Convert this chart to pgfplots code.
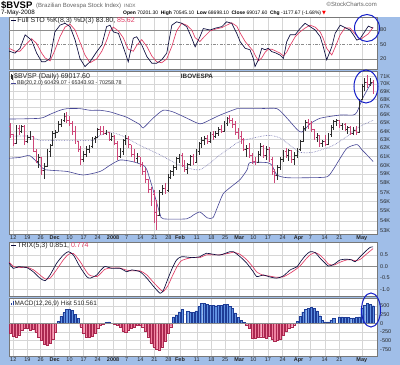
\documentclass[border=0pt]{standalone}
\usepackage{pgfplots}
\pgfplotsset{compat=1.18}
\usepackage{pgfplotstable}
\usepackage{fontspec}
\setmainfont{Liberation Sans}
\newfontfamily\dejavu{DejaVu Sans}
\definecolor{bgblue}{RGB}{160,190,232}
\definecolor{gridc}{RGB}{214,214,214}
\definecolor{framec}{RGB}{120,120,120}
\definecolor{kline}{RGB}{10,10,60}
\definecolor{dline}{RGB}{225,60,100}
\definecolor{upbar}{RGB}{45,45,45}
\definecolor{dnbar}{RGB}{205,70,120}
\definecolor{bbc}{RGB}{70,70,150}
\definecolor{histpos}{RGB}{95,145,225}
\definecolor{histposd}{RGB}{30,60,150}
\definecolor{histneg}{RGB}{240,130,160}
\definecolor{histnegd}{RGB}{170,40,80}
\definecolor{circc}{RGB}{20,30,200}
\definecolor{hdrgray}{RGB}{100,100,100}

\pgfdeclareplotmark{ctick}{\pgfpathmoveto{\pgfqpoint{0pt}{0pt}}\pgfpathlineto{\pgfqpoint{1.3pt}{0pt}}\pgfusepathqstroke}
\pgfdeclareplotmark{otick}{\pgfpathmoveto{\pgfqpoint{0pt}{0pt}}\pgfpathlineto{\pgfqpoint{-1.3pt}{0pt}}\pgfusepathqstroke}

\pgfplotstableread{
d o h l c
-1 64600 65000 63200 63600
0 63600 63700 62200 62600
1 62600 64800 62500 64400
2 64400 64800 63600 64000
3 64000 64800 63800 64600
4 64600 64800 62400 62800
5 62800 63600 62600 63300
6 63300 64000 63000 63400
7 63400 63400 61500 61800
8 61600 61900 60200 60500
9 60500 61300 59700 60900
10 60900 60900 58900 59400
11 59400 60200 58400 59900
12 59900 61900 59800 61600
13 61600 62500 61000 62300
14 62300 64000 62300 63800
15 63800 64200 63200 63900
16 63900 65200 63900 64900
17 64900 65500 64500 65300
18 65300 66300 65100 65800
19 65800 66400 65000 65300
20 65300 65900 64600 65000
21 65000 65200 63600 64000
22 64000 64600 62500 62800
23 62800 62800 61500 61900
24 61900 62200 60000 60700
25 60700 61600 60400 61300
26 61300 62200 61000 61900
27 61900 62400 61400 62200
28 62200 63300 62000 63100
29 63100 63400 62600 63300
30 63300 64400 63200 64200
31 64200 64700 63500 64000
32 64000 64600 63500 63700
33 63700 64200 63500 63900
34 63900 63900 62900 63000
35 63000 63800 62800 63400
36 63400 63500 62300 62500
37 62500 62800 60600 61000
38 61000 62000 60800 61600
39 61600 63100 61200 62900
40 62900 63500 62400 63200
41 63200 63400 62000 62400
42 62400 62400 60900 61300
43 61300 61900 60400 60800
44 60800 61400 60300 61000
45 61000 61000 59800 60100
46 60100 60400 58900 59300
47 59300 59700 58000 58400
48 58400 58500 56900 57300
49 57300 57600 55500 56000
50 56800 57300 53800 54900
51 54900 56200 53100 54600
52 54600 57200 54500 57000
53 57000 57800 56700 57400
54 57400 58000 56800 57200
55 57200 59000 57000 58700
56 58700 59500 58400 59300
57 59300 60000 58800 59800
58 59800 61000 59500 60800
59 60800 61300 60200 61100
60 61100 61400 59800 60000
61 60000 60600 59200 59600
62 59600 60300 59000 60100
63 60100 61200 59900 61000
64 61000 61300 60000 60300
65 60300 61900 60200 61600
66 61600 62700 61200 62500
67 62500 63300 62000 62900
68 62900 63400 62400 63100
69 63100 63600 62500 62800
70 62800 63900 62600 63600
71 63600 64000 63000 63400
72 63400 64000 63200 63800
73 63800 64500 63400 64300
74 64300 64800 63800 64000
75 64000 65200 63900 65000
76 65000 65800 64700 65600
77 65600 66000 65000 65300
78 65300 65600 64400 64800
79 64800 65300 63600 63900
80 63900 64400 63100 63400
81 63400 64000 62500 63000
82 63000 63200 61600 61900
83 61900 62400 61000 62000
84 62000 62600 60800 61100
85 61100 61400 60100 60400
86 60400 61000 60000 60300
87 60300 61600 60200 61300
88 61300 62600 61100 62200
89 62200 62300 60800 61200
90 61200 62200 60600 61900
91 61900 62100 60400 60700
92 60700 60900 58900 59300
93 59300 59600 58000 58900
94 58900 60000 58300 59800
95 59800 61000 59500 60700
96 60700 61800 60400 61600
97 61600 62000 60800 61100
98 61100 61900 60500 61700
99 61700 61800 60300 60700
100 60700 61500 60000 61200
101 61200 62000 60800 61800
102 61800 63000 61600 62800
103 62800 64600 62700 64400
104 64400 65400 64000 65100
105 65100 65500 64300 65000
106 65000 65200 63900 64200
107 64200 64300 62900 63300
108 63300 63800 62700 63500
109 63500 63600 62100 62500
110 62500 63000 62100 62800
111 62800 63500 62200 62400
112 62400 63800 62300 63600
113 63600 64800 63300 64500
114 64500 65400 64200 65200
115 65200 65500 64600 65300
116 65300 65400 64400 64700
117 64700 65000 64200 64800
118 64800 65000 64000 64300
119 64300 64700 63700 64500
120 64500 64600 63500 63800
121 63800 64500 63500 64100
122 64100 64600 63600 63900
123 63900 68000 63800 67900
124 68000 70000 67900 69700
125 69700 70800 69100 70300
126 70300 71200 69500 70000
127 70000 70800 69800 70195
128 70201.3 70545.1 68698.1 69017.6
}\ohlc

\pgfplotstableread{
d v
-1.5 65500
9.5 65600
13.1 66100
16.6 66600
19.1 66800
23.7 66800
27.3 66600
30.9 66600
34.4 66400
38 66000
40.5 65700
45.1 64800
46.2 64400
49.7 65600
53.3 66600
56.8 66400
61.8 65600
66.4 64900
70 65400
73.6 66000
79.6 66800
81.7 66800
87.8 66800
93.8 66800
97.4 65600
101 64200
102.7 63900
105.6 64900
109.2 65600
116.3 66000
120.9 66000
122.3 66400
124.4 68200
127 69900
128 70259
}\bbup

\pgfplotstableread{
d v
-1.5 63400
5.9 63400
9.5 62900
16.6 62900
23.7 62900
28.4 62900
30.9 63500
34.4 63900
39 63400
45.1 62300
52.2 61200
59.3 60000
66.4 59500
73.6 61200
79.6 62600
81.7 62900
90.3 63500
94.9 63200
98.5 62300
102 61500
106.7 61500
113.8 62300
118.8 63400
122.3 64400
125.8 65000
128 65344
}\bbmid

\pgfplotstableread{
d v
-1.5 60800
2.4 60900
5.9 61100
9.5 60000
11.3 59500
19.1 59300
24.8 58900
30.9 59300
34.4 60000
38 60600
42.6 60400
46.2 60000
47.5 59500
49.7 57300
52.2 54700
53.4 54200
61.7 54200
64.1 54600
66.4 54900
69 54300
71 54300
72.5 55300
74.6 56800
77.1 57500
80.7 58400
83.2 59500
84.2 60300
90.3 60300
92 60000
93.8 58900
97.4 58600
105.6 58600
111.6 58700
113.8 59500
116.3 60800
118.8 62000
122.3 62400
124 61800
125.8 61200
128 60429
}\bblo

\pgfplotstableread{
d v
-1.5 36
0.6 32
2.4 42
4.2 70
6.5 59
8.3 32
10.1 14
11.3 14
13.1 21
14.8 76
16.6 90
18.4 94
20.2 87
22 59
23.7 21
25.5 4
27.3 14
29.7 35
31.5 49
33.2 87
34.4 90
35.6 76
37.4 73
39.1 45
40.9 14
42.7 63
43.9 66
45.7 49
47.5 25
49.3 11
51 11
52.8 18
54.6 32
56.4 90
58.1 97
59.9 94
61.7 87
63.5 63
64.7 45
66.4 66
67.6 83
70 80
72 84
74.2 87
75.9 97
77.7 94
79.5 73
80.7 56
82.5 42
84.2 39
85.4 21
86 4
87.2 18
88.4 42
89.6 39
90.7 42
92 35
93.5 32
94.9 28
96.1 21
97.3 56
98.5 70
100.3 70
102 83
103.8 94
105.6 87
107.4 80
109.2 66
110.3 45
111.5 18
113.3 45
114.5 73
116.3 90
118 85
119.8 80
121 70
122.2 59
123.4 62
126.3 88
128 83.8
}\stok

\pgfplotstableread{
d v
-1.5 42
0.6 36
2.4 36
4.2 48
6.5 62
8.3 52
10.1 32
11.3 22
13.1 16
14.8 38
16.6 66
18.4 86
20.2 92
22 80
23.7 55
25.5 28
27.3 12
29.7 20
31.5 36
33.2 58
34.4 78
35.6 86
37.4 78
39.1 64
40.9 40
42.7 36
43.9 48
45.7 60
47.5 46
49.3 26
51 14
52.8 12
54.6 20
56.4 46
58.1 78
59.9 94
61.7 90
63.5 80
64.7 64
66.4 56
67.6 64
70 78
72 82
74.2 85
75.9 90
77.7 95
79.5 88
80.7 74
82.5 56
84.2 44
85.4 36
86 28
87.2 16
88.4 22
89.6 34
90.7 40
92 40
93.5 36
94.9 32
96.1 26
97.3 34
98.5 48
100.3 66
102 76
103.8 84
105.6 90
107.4 86
109.2 76
110.3 62
111.5 42
113.3 28
114.5 44
116.3 70
118 84
119.8 84
121 76
122.2 68
123.4 60
126.3 72
128 85.62
}\stod

\pgfplotstableread{
d v
-1.5 0.15
0 -0.09
1.8 -0.02
4.8 -0.06
7.1 -0.24
9.5 -0.52
11.3 -0.63
13.1 -0.38
15.4 0.13
17.8 0.49
19.6 0.64
21.4 0.49
23.7 -0.02
26.1 -0.45
27.3 -0.52
29.7 -0.38
30.9 -0.20
32.6 -0.01
35 -0.09
38 -0.09
40.4 -0.24
42.1 -0.16
45.1 -0.24
47.5 -0.52
49.7 -0.85
52.2 -1.18
53.4 -1.05
55 -0.55
56.5 -0.10
58.1 0.28
59.9 0.42
63.5 0.38
66.4 0.42
68.7 0.57
73.3 0.49
77.1 0.64
78.3 0.64
80.7 0.42
83.1 0.13
85.4 -0.24
86.6 -0.45
89 -0.38
90.8 -0.45
93.7 -0.52
96.1 -0.42
98.5 -0.16
100.9 -0.02
102.5 0.25
104 0.48
105.6 0.64
107.4 0.60
109.2 0.35
111 0.13
112.1 0.01
114 0.08
116.3 0.28
118.7 0.31
120.4 0.28
121.6 0.20
123.4 0.42
125.8 0.71
127 0.83
128 0.851
}\trixk

\pgfplotstableread{
d v
-1.5 0.18
0 0.0
1.8 -0.06
4.8 -0.04
7.1 -0.15
9.5 -0.38
11.3 -0.55
13.1 -0.52
15.4 -0.15
17.8 0.28
19.6 0.52
21.4 0.56
23.7 0.22
26.1 -0.25
27.3 -0.40
29.7 -0.45
30.9 -0.34
32.6 -0.13
35 -0.07
38 -0.08
40.4 -0.17
42.1 -0.20
45.1 -0.20
47.5 -0.38
49.7 -0.68
52.2 -1.00
53.4 -1.10
55 -0.85
56.5 -0.45
58.1 -0.05
59.9 0.25
63.5 0.38
66.4 0.38
68.7 0.50
73.3 0.50
77.1 0.58
78.3 0.62
80.7 0.52
83.1 0.28
85.4 -0.05
86.6 -0.25
89 -0.40
90.8 -0.42
93.7 -0.48
96.1 -0.46
98.5 -0.30
100.9 -0.10
102.5 0.08
104 0.30
105.6 0.50
107.4 0.60
109.2 0.48
111 0.26
112.1 0.10
114 0.05
116.3 0.18
118.7 0.28
120.4 0.28
121.6 0.24
123.4 0.30
125.8 0.55
128 0.774
}\trixd

\pgfplotstableread{
d v
-1 -290
0 -380
1 -390
2 -330
3 -200
4 -130
5 -150
6 -200
7 -170
8 -250
9 -400
10 -500
11 -620
12 -640
13 -580
14 -460
15 -250
16 60
17 200
18 310
19 400
20 410
21 370
22 260
23 150
24 -100
25 -300
26 -390
27 -400
28 -380
29 -300
30 -150
31 -60
32 -30
33 30
34 40
36 -20
37 -60
38 -120
39 -220
40 -260
41 -200
42 -150
43 -120
44 -60
45 -50
46 -100
47 -240
48 -390
49 -580
50 -680
51 -750
52 -780
53 -680
54 -530
55 -290
56 -100
57 190
58 240
59 330
60 410
62 340
63 330
64 320
65 360
66 500
67 580
68 580
69 560
70 530
71 520
72 510
73 520
74 530
75 550
76 550
77 500
78 440
79 300
80 180
81 80
82 30
83 -50
84 -150
85 -440
86 -430
87 -400
88 -390
89 -400
90 -440
91 -380
92 -470
93 -530
94 -500
95 -450
96 -340
97 -240
98 -150
99 -100
100 -40
101 50
102 200
103 330
104 400
105 440
106 460
107 440
108 360
109 220
110 80
111 40
112 40
113 100
114 150
116 190
117 190
118 180
119 170
120 160
121 160
122 170
123 190
124 440
125 530
126 580
127 550
128 510.561
}\macd

\pgfplotsset{
  panel/.style={
    scale only axis, width=368pt,
    xmin=-1.53, xmax=129.4,
    axis background/.style={fill=white},
    axis line style={framec, line width=0.4pt},
    xtick={0,5,9.7,14.7,20,25,30,35.5,40.3,45.2,50.2,55.2,59.3,65.3,70.5,75.4,80.4,85.4,90.6,95.8,101.5,105.7,110.8,116,124},
    xticklabels={},
    xmajorgrids,
    major grid style={gridc, line width=0.4pt},
    major tick length=0pt,
    yticklabel pos=right,
    yticklabel style={font=\fontsize{5.5}{6}\selectfont, text=black!85, inner sep=0pt, xshift=3pt},
    anchor=south west,
  },
  datelabels/.style={
    xticklabels={12,19,26,\textbf{Dec},10,17,24,\textbf{2008},7,14,21,28,\textbf{Feb},11,18,25,\textbf{Mar},10,17,24,\textbf{Apr},7,14,21,\textbf{May}},
    xticklabel style={font=\fontsize{5.5}{6}\selectfont, text=black!85, inner sep=0pt, yshift=-1.8pt},
  },
}

\begin{document}
\begin{tikzpicture}
\fill[white] (0pt,0pt) rectangle (400pt,365pt);
\fill[bgblue] (0pt,0pt) rectangle (400pt,348pt);

% ---------- STO ----------
\begin{axis}[panel, at={(9pt,296pt)}, height=52pt, ymin=-1, ymax=107,
  ytick={20,50,80}, yticklabels={20,50,80}]
\draw[black!45, line width=0.5pt] (axis cs:-1.53,80) -- (axis cs:129.4,80);
\draw[black!45, line width=0.5pt] (axis cs:-1.53,20) -- (axis cs:129.4,20);
\draw[black!45, line width=0.5pt, dash pattern=on 3pt off 1.5pt on 0.8pt off 1.5pt] (axis cs:-1.53,50) -- (axis cs:129.4,50);
\addplot[dline, line width=0.65pt, mark=none] table[x=d,y=v] {\stod};
\addplot[kline, line width=0.65pt, mark=none] table[x=d,y=v] {\stok};
\end{axis}

% ---------- PRICE ----------
\begin{axis}[panel, datelabels, at={(9pt,131pt)}, height=163pt,
  ymin=10.87157, ymax=11.18087, ymajorgrids,
  ytick={10.87805,10.89674,10.91509,10.93311,10.95081,10.96820,10.98529,11.00210,11.01863,11.03489,11.05089,11.06664,11.08214,11.09741,11.11245,11.12726,11.14186,11.15625,11.17043},
  yticklabels={53K,54K,55K,56K,57K,58K,59K,60K,61K,62K,63K,64K,65K,66K,67K,68K,69K,70K,71K}]
\addplot[bbc, line width=0.6pt, mark=none, smooth, tension=0.4] table[x=d, y expr={ln(\thisrow{v})}] {\bbup};
\addplot[bbc, line width=0.6pt, mark=none, smooth, tension=0.4] table[x=d, y expr={ln(\thisrow{v})}] {\bblo};
\addplot[bbc!75, line width=0.6pt, mark=none, densely dotted, smooth, tension=0.4] table[x=d, y expr={ln(\thisrow{v})}] {\bbmid};
% up bars
\addplot[upbar, only marks, mark=ctick, mark options={line width=0.5pt},
  restrict expr to domain={\thisrow{c}-\thisrow{o}}{0:1000000},
  error bars/y dir=both, error bars/y explicit, error bars/error mark=none,
  error bars/error bar style={line width=0.55pt, upbar}]
  table[x=d, y expr={ln(\thisrow{c})}, y error plus expr={ln(\thisrow{h})-ln(\thisrow{c})}, y error minus expr={ln(\thisrow{c})-ln(\thisrow{l})}] {\ohlc};
\addplot[upbar, only marks, mark=otick, mark options={line width=0.5pt},
  restrict expr to domain={\thisrow{c}-\thisrow{o}}{0:1000000}]
  table[x=d, y expr={ln(\thisrow{o})}] {\ohlc};
% down bars
\addplot[dnbar, only marks, mark=ctick, mark options={line width=0.5pt},
  restrict expr to domain={\thisrow{c}-\thisrow{o}}{-1000000:-0.01},
  error bars/y dir=both, error bars/y explicit, error bars/error mark=none,
  error bars/error bar style={line width=0.55pt, dnbar}]
  table[x=d, y expr={ln(\thisrow{c})}, y error plus expr={ln(\thisrow{h})-ln(\thisrow{c})}, y error minus expr={ln(\thisrow{c})-ln(\thisrow{l})}] {\ohlc};
\addplot[dnbar, only marks, mark=otick, mark options={line width=0.5pt},
  restrict expr to domain={\thisrow{c}-\thisrow{o}}{-1000000:-0.01}]
  table[x=d, y expr={ln(\thisrow{o})}] {\ohlc};
\end{axis}

% ---------- TRIX ----------
\begin{axis}[panel, at={(9pt,69pt)}, height=54pt, ymin=-1.30, ymax=1.063, ymajorgrids,
  ytick={-1,-0.5,0,0.5}, yticklabels={-1.0,-0.5,0.0,0.5}]
\draw[black!45, line width=0.5pt] (axis cs:-1.53,0) -- (axis cs:129.4,0);
\addplot[dline, line width=0.65pt, mark=none, smooth, tension=0.4] table[x=d,y=v] {\trixd};
\addplot[kline, line width=0.65pt, mark=none, smooth, tension=0.4] table[x=d,y=v] {\trixk};
\end{axis}

% ---------- MACD ----------
\begin{axis}[panel, datelabels, at={(9pt,9pt)}, height=58pt, ymin=-950, ymax=735, ymajorgrids,
  ytick={-750,-500,-250,0,250,500}, yticklabels={-750,-500,-250,0,250,500}]
\addplot[ybar, bar width=2.2pt, bar shift=0pt, fill=histpos, draw=histposd, line width=0.3pt,
  restrict y to domain=0.1:2000] table[x=d,y=v] {\macd};
\addplot[ybar, bar width=2.2pt, bar shift=0pt, fill=histneg, draw=histnegd, line width=0.3pt,
  restrict y to domain=-2000:-0.1] table[x=d,y=v] {\macd};
\draw[black!45, line width=0.5pt] (axis cs:-1.53,0) -- (axis cs:129.4,0);
\end{axis}

% ---------- header ----------
\node[anchor=base west, inner sep=0pt, font=\bfseries\fontsize{9.5}{10}\selectfont] at (1pt,356pt) {\$BVSP};
\node[anchor=base west, inner sep=0pt, font=\fontsize{6}{6}\selectfont, text=hdrgray] at (36pt,357pt) {(Brazilian Bovespa Stock Index)};
\node[anchor=base west, inner sep=0pt, font=\fontsize{4.8}{5}\selectfont, text=hdrgray] at (124pt,357pt) {INDX};
\node[anchor=base east, inner sep=0pt, font=\fontsize{6}{6}\selectfont, text=hdrgray] at (377pt,358pt) {©StockCharts.com};
\node[anchor=base west, inner sep=0pt, font=\fontsize{6.3}{6.5}\selectfont] at (1pt,350pt) {7-May-2008};
\node[anchor=base west, inner sep=0pt, font=\fontsize{5}{6}\selectfont] at (123pt,350pt)
  {\textbf{Open} 70201.30\hspace{2.6pt}\textbf{High} 70545.10\hspace{2.6pt}\textbf{Low} 68698.10\hspace{2.6pt}\textbf{Close} 69017.60\hspace{2.6pt}\textbf{Chg} -1177.67 (-1.68\%)\hspace{1pt}\textcolor{red}{\dejavu ▼}};

% ---------- panel legends ----------
\begin{scope}[every node/.style={anchor=base west, inner sep=0pt, font=\fontsize{7}{7}\selectfont, text=black!85}]
\node at (11pt,342.5pt) {\textcolor{kline}{\rule[1.9pt]{5pt}{0.7pt}}\,Full STO \%K(8,3) \%D(3) 83.80, \textcolor{dline}{85.62}};
\node at (11pt,286pt) {\textcolor{upbar}{\rule{0.6pt}{4.5pt}\hspace{0.6pt}\rule[-0.8pt]{0.6pt}{4.5pt}}\,\$BVSP (Daily) 69017.60};
\node[font=\fontsize{5.4}{5.5}\selectfont] at (11pt,280pt) {\textcolor{bbc}{\rule[1.4pt]{5pt}{0.7pt}}\,BB(20,2.0) 60429.07 - 65343.93 - 70258.78};
\node[anchor=base, font=\bfseries\fontsize{6.3}{6.5}\selectfont] at (197pt,286pt) {IBOVESPA};
\node at (11pt,117.5pt) {\textcolor{kline}{\rule[1.9pt]{5pt}{0.7pt}}\,TRIX(5,3) 0.851, \textcolor{dline}{0.774}};
\node[font=\fontsize{6.4}{6.5}\selectfont] at (11pt,59.5pt) {\textcolor{histposd}{\rule{1pt}{3pt}\hspace{0.4pt}\rule{1pt}{4.5pt}}\,MACD(12,26,9) Hist 510.561};
\end{scope}

% ---------- annotations ----------
\draw[circc, line width=1pt] (367pt,337pt) ellipse (12.5pt and 13.5pt);
\draw[circc, line width=1pt] (366pt,278.5pt) ellipse (12pt and 16.5pt);
\draw[circc, line width=1pt] (371pt,55pt) ellipse (9.5pt and 17pt);
\end{tikzpicture}
\end{document}
